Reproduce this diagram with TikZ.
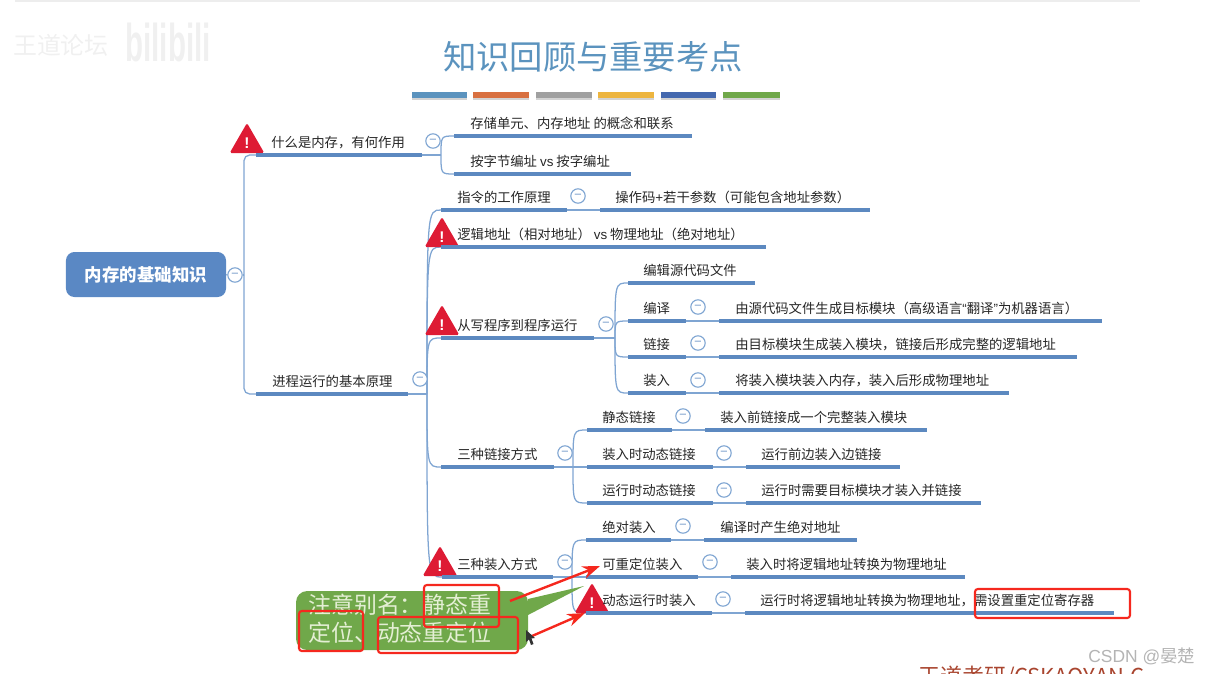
\documentclass[tikz,border=0pt]{standalone}
\usepackage{fontspec}
\setmainfont{Noto Sans CJK SC}
\newfontfamily\lat{Liberation Sans}
\usepackage{xcolor}
\usetikzlibrary{arrows.meta,shapes.geometric,calc,backgrounds,shadows}
\definecolor{Title}{HTML}{5B93BE}
\definecolor{Root}{HTML}{5A88C4}
\definecolor{Bar}{HTML}{5C89C0}
\definecolor{Branch}{HTML}{7FA5D2}
\definecolor{Ink}{HTML}{262626}
\definecolor{Warn}{HTML}{DE1B34}
\definecolor{Note}{HTML}{70A84A}
\definecolor{NoteText}{HTML}{E4EFD4}
\definecolor{Mark}{HTML}{F5281E}
\definecolor{Ghost}{HTML}{F0F0F0}
\definecolor{Brand}{HTML}{A9452F}
\definecolor{Csdn}{HTML}{B4B4B4}
\definecolor{StripeB}{HTML}{D87040}
\definecolor{StripeC}{HTML}{A0A0A0}
\definecolor{StripeD}{HTML}{EDB53F}
\definecolor{StripeE}{HTML}{4468AE}
\newcommand{\topic}[6]{%
  \node[bar,minimum width={(#3-#2)*0.025cm},anchor=west] (#1) at (#2,#4) {};
  \node[lbl,anchor=base west] (#1t) at (#5,#4-8) {#6};}
\begin{document}
\begin{tikzpicture}[
  x=0.025cm,y=-0.025cm,
  bar/.style={fill=Bar,inner sep=0pt,outer sep=0pt,minimum height=0.09cm},
  lbl/.style={inner sep=0pt,text=Ink,font=\fontsize{9.5}{11}\selectfont},
  rootbox/.style={rounded corners=6pt,fill=Root,text=white,minimum width=4cm,minimum height=1.125cm,font=\fontsize{12.4}{14}\selectfont\bfseries},
  fold/.style={circle,draw=Branch,fill=white,line width=0.8pt,inner sep=0pt,minimum size=0.36cm,text=Bar,font=\lat\fontsize{8}{8}\selectfont},
  warn/.style={regular polygon,regular polygon sides=3,fill=Warn,rounded corners=1.2pt,inner sep=0pt,outer sep=0pt,minimum size=1cm,text=white,font=\lat\fontsize{11}{11}\selectfont\bfseries},
  stripe/.style={inner sep=0pt,minimum height=0.15cm,drop shadow={shadow xshift=0pt,shadow yshift=-1.2pt,opacity=0.35}},
  link/.style={draw=Branch,line width=0.9pt},
  fork/.style={to path={.. controls (\tikztostart |- \tikztotarget) and (\tikztostart |- \tikztotarget) .. (\tikztotarget)}},
  redbox/.style={draw=Mark,line width=1.5pt,rounded corners=2pt},
  redarrow/.style={draw=Mark,fill=Mark,line width=1.7pt,-{Stealth[length=4.4mm,width=3.2mm]}},
  notetext/.style={inner sep=0pt,text=NoteText,align=left,font=\fontsize{16.3}{20}\selectfont}
]
\useasboundingbox (0,0) rectangle (1215,673);
\fill[black!7] (15,0) rectangle (1140,1.5);
\node[inner sep=0pt,text=Ghost,font=\fontsize{17}{17}\selectfont] (wm) at (61,45) {王道论坛};
\node[inner sep=0pt,text=Ghost,yscale=1.8,font=\lat\fontsize{21}{21}\selectfont\bfseries] (logo) at (168,42) {bilibili};
\node[inner sep=0pt,text=Title,font=\fontsize{23.7}{26}\selectfont] (title) at (593,57) {知识回顾与重要考点};
\node[stripe,fill=Title,minimum width=1.375cm] (c1) at (439.5,95) {};
\node[stripe,fill=StripeB,minimum width=1.4cm] (c2) at (501,95) {};
\node[stripe,fill=StripeC,minimum width=1.4cm] (c3) at (564,95) {};
\node[stripe,fill=StripeD,minimum width=1.4cm] (c4) at (626,95) {};
\node[stripe,fill=StripeE,minimum width=1.375cm] (c5) at (688.5,95) {};
\node[stripe,fill=Note,minimum width=1.425cm] (c6) at (751.5,95) {};

\node[rootbox] (root) at (146,274.5) {内存的基础知识};
\fill[Note,rounded corners=8pt] (296,650) -- (296,591) -- (528,591) [sharp corners] -- (528,599) -- (584,586) -- (528,615) [rounded corners=8pt] -- (528,650) -- cycle;
\node[notetext,anchor=north west] (note) at (308,594) {注意别名：静态重\\定位、动态重定位};

\node[warn] (w1) at (247,143) {!};
\node[warn] (w2) at (442,237) {!};
\node[warn] (w3) at (442,325) {!};
\node[warn] (w4) at (440,566) {!};
\node[warn] (w5) at (592,603) {!};

\topic{whatmem}{256}{422}{155}{271}{什么是内存，有何作用}
\topic{cell}{454}{692}{136}{470}{存储单元、内存地址 的概念和联系}
\topic{byteaddr}{454}{631}{174}{470}{按字节编址 {\lat vs} 按字编址}
\topic{basics}{256}{408}{394}{272}{进程运行的基本原理}
\topic{instr}{441}{567}{210}{457}{指令的工作原理}
\topic{opcode}{600}{870}{210}{615}{操作码{\lat +}若干参数（可能包含地址参数）}
\topic{logic}{441}{766}{247}{457}{逻辑地址（相对地址） {\lat vs} 物理地址（绝对地址）}
\topic{build}{441}{594}{338}{457}{从写程序到程序运行}
\topic{edit}{628}{755}{283}{643}{编辑源代码文件}
\topic{compile}{628}{686}{321}{643}{编译}
\topic{compiled}{719}{1102}{321}{735}{由源代码文件生成目标模块（高级语言{\lat “}翻译{\lat ”}为机器语言）}
\topic{linking}{628}{686}{357}{643}{链接}
\topic{linked}{719}{1077}{357}{735}{由目标模块生成装入模块，链接后形成完整的逻辑地址}
\topic{load}{628}{686}{393}{643}{装入}
\topic{loaded}{719}{1009}{393}{735}{将装入模块装入内存，装入后形成物理地址}
\topic{linkways}{441}{554}{467}{457}{三种链接方式}
\topic{statlink}{587}{672}{430}{602}{静态链接}
\topic{statdone}{705}{927}{430}{720}{装入前链接成一个完整装入模块}
\topic{loadlink}{587}{713}{467}{602}{装入时动态链接}
\topic{loaddone}{746}{900}{467}{761}{运行前边装入边链接}
\topic{runlink}{587}{713}{503}{602}{运行时动态链接}
\topic{rundone}{746}{981}{503}{761}{运行时需要目标模块才装入并链接}
\topic{loadways}{442}{553}{577}{457}{三种装入方式}
\topic{absload}{586}{671}{540}{602}{绝对装入}
\topic{absdone}{704}{857}{540}{720}{编译时产生绝对地址}
\topic{reloc}{586}{698}{577}{602}{可重定位装入}
\topic{relocdone}{731}{965}{577}{746}{装入时将逻辑地址转换为物理地址}
\topic{dyn}{586}{712}{613}{602}{动态运行时装入}
\topic{dyndone}{745}{1114}{613}{760}{运行时将逻辑地址转换为物理地址，需设置重定位寄存器}

\node[fold] (f0) at (235,275) {–};
\node[fold] (f1) at (433,141) {–};
\node[fold] (f2) at (420,379) {–};
\node[fold] (f3) at (578,196) {–};
\node[fold] (f4) at (606,324) {–};
\node[fold] (f5) at (698,307) {–};
\node[fold] (f6) at (698,343) {–};
\node[fold] (f7) at (698,380) {–};
\node[fold] (f8) at (565,453) {–};
\node[fold] (f9) at (683,416) {–};
\node[fold] (f10) at (724,453) {–};
\node[fold] (f11) at (724,490) {–};
\node[fold] (f12) at (565,562) {–};
\node[fold] (f13) at (683,526) {–};
\node[fold] (f14) at (710,562) {–};
\node[fold] (f15) at (723,599) {–};

\coordinate (trunk) at (244,275);
\coordinate (memfork) at (441,155);
\coordinate (basefork) at (427,394);
\coordinate (buildfork) at (615,338);
\coordinate (linkfork) at (573,467);
\coordinate (loadfork) at (572,577);
\begin{scope}[on background layer]
  \draw[link] (root.east) -- (f0.west);
  \draw[link] (f0.east) -- (trunk);
  \draw[link,rounded corners=4pt] (trunk) |- (whatmem.west);
  \draw[link,rounded corners=4pt] (trunk) |- (basics.west);
  \draw[link] (whatmem.east) -- (memfork);
  \draw[link,fork] (memfork) to (cell.west);
  \draw[link,fork] (memfork) to (byteaddr.west);
  \draw[link] (basics.east) -- (basefork);
  \draw[link,fork] (basefork) to (instr.west);
  \draw[link,fork] (basefork) to (logic.west);
  \draw[link,fork] (basefork) to (build.west);
  \draw[link,fork] (basefork) to (linkways.west);
  \draw[link,fork] (basefork) to (loadways.west);
  \draw[link] (instr.east) -- (opcode.west);
  \draw[link] (build.east) -- (buildfork);
  \draw[link,fork] (buildfork) to (edit.west);
  \draw[link,fork] (buildfork) to (compile.west);
  \draw[link,fork] (buildfork) to (linking.west);
  \draw[link,fork] (buildfork) to (load.west);
  \draw[link] (compile.east) -- (compiled.west);
  \draw[link] (linking.east) -- (linked.west);
  \draw[link] (load.east) -- (loaded.west);
  \draw[link] (linkways.east) -- (linkfork);
  \draw[link,fork] (linkfork) to (statlink.west);
  \draw[link] (linkfork) -- (loadlink.west);
  \draw[link,fork] (linkfork) to (runlink.west);
  \draw[link] (statlink.east) -- (statdone.west);
  \draw[link] (loadlink.east) -- (loaddone.west);
  \draw[link] (runlink.east) -- (rundone.west);
  \draw[link] (loadways.east) -- (loadfork);
  \draw[link,fork] (loadfork) to (absload.west);
  \draw[link] (loadfork) -- (reloc.west);
  \draw[link,fork] (loadfork) to (dyn.west);
  \draw[link] (absload.east) -- (absdone.west);
  \draw[link] (reloc.east) -- (relocdone.west);
  \draw[link] (dyn.east) -- (dyndone.west);
\end{scope}

\draw[redbox] (424,585) rectangle (499,627);
\draw[redbox] (299,611) rectangle (363,651);
\draw[redbox] (378,617) rectangle (518,653);
\draw[redbox] (975,589) rectangle (1130,618);
\coordinate (a1s) at (510,601);
\coordinate (a1e) at (600,566);
\coordinate (a2s) at (532,636);
\coordinate (a2e) at (585,613);
\draw[redarrow] (a1s) -- (a1e);
\draw[redarrow] (a2s) -- (a2e);
\fill[black!80] (526,630) -- (526,642) -- (529,639.5) -- (531,645) -- (533.5,644) -- (531.5,638.5) -- (535,638) -- cycle;

\node[inner sep=0pt,text=Brand,anchor=base west,font=\fontsize{15.6}{17}\selectfont] (brand) at (918,684) {王道考研/CSKAOYAN.C};
\node[inner sep=0pt,text=Csdn,anchor=base west,font=\fontsize{12.4}{14}\selectfont] (csdn) at (1088,662) {{\lat CSDN @}晏楚};
\end{tikzpicture}
\end{document}
